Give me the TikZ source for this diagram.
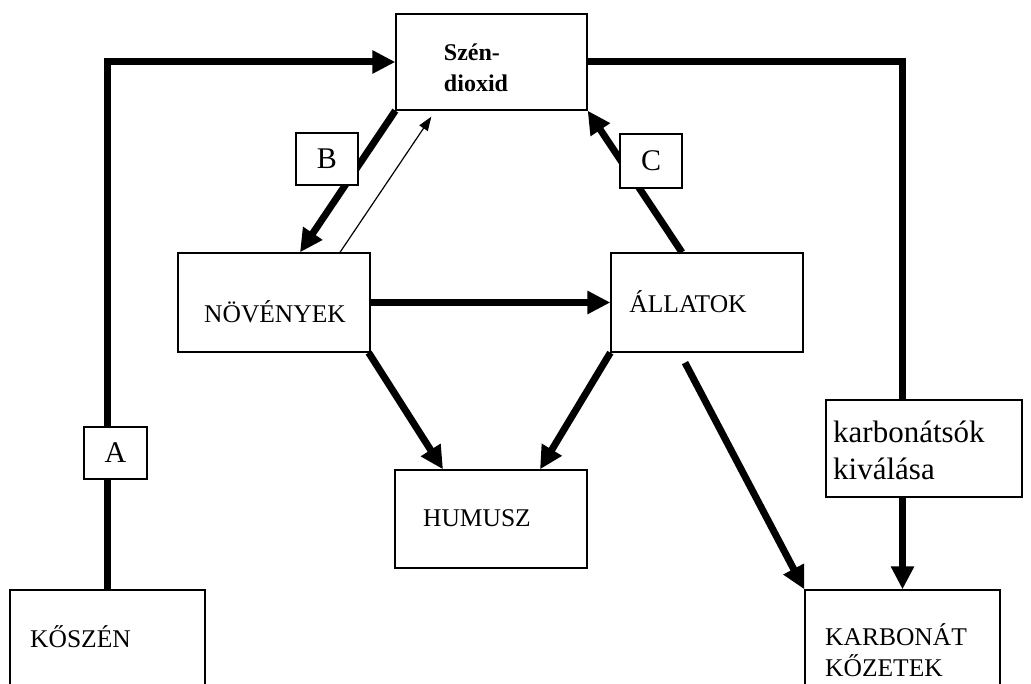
\documentclass[tikz,border=0pt]{standalone}
\usepackage{fontspec}
\setmainfont{Liberation Serif}
\usetikzlibrary{arrows.meta,calc}
\begin{document}
\begin{tikzpicture}[x=1pt,y=-1pt,
  box/.style={draw,line width=1.3pt,fill=white,inner sep=0pt,minimum width=#1},
  box/.default=192pt,
  arr/.style={line width=7pt,-{Triangle[length=23pt,width=22pt]}},
  thick line/.style={line width=7pt},
  thinarr/.style={line width=1.2pt,-{Triangle[length=14pt,width=10pt]}},
  lbl/.style={inner sep=0pt,font=\fontsize{25.5}{30}\selectfont},
  biglbl/.style={inner sep=0pt,align=left,font=\fontsize{31}{37}\selectfont},
  letter/.style={draw,line width=1.3pt,fill=white,inner sep=0pt,font=\fontsize{30}{32}\selectfont}]
\clip (0,0) rectangle (1031,684);
\fill[white] (0,0) rectangle (1031,684);
% main boxes
\node[box=191pt,minimum height=96pt] (co2) at (491.5,62) {};
\node[box,minimum height=99pt] (nov) at (274,302.5) {};
\node[box,minimum height=99pt] (all) at (707,302.5) {};
\node[box,minimum height=98pt] (hum) at (491,519) {};
\node[box=195pt,minimum height=110pt] (kosz) at (107.5,645) {};
\node[box=195pt,minimum height=110pt] (karb) at (902.5,645) {};
\node[box=196pt,minimum height=97pt] (kiv) at (924,448.5) {};
% texts
\node[inner sep=0pt,align=left,font=\bfseries\fontsize{24}{31}\selectfont] (t0) at (476,68) {Szén-\\dioxid};
\node[lbl] (t1) at (275,312) {NÖVÉNYEK};
\node[lbl] (t2) at (688,302) {ÁLLATOK};
\node[lbl] (t3) at (477,518) {HUMUSZ};
\node[lbl,anchor=west] (t4) at (30,637) {KŐSZÉN};
\node[lbl,anchor=north west,align=left,font=\fontsize{25.5}{31}\selectfont] (t5) at (825,623) {KARBONÁT\\KŐZETEK};
\node[biglbl,anchor=north west] (t6) at (833,421) {karbonátsók\\kiválása};
% connectors
\draw[arr] (kosz.north) |- (co2.west);
\draw[thick line] (co2.east) -| (kiv.north -| karb.north);
\draw[arr] (kiv.south -| karb.north) -- (karb.north);
\draw[arr] (co2.south west) -- ([xshift=26pt]nov.north);
\draw[thinarr] ([xshift=66pt]nov.north) -- ([xshift=36pt,yshift=-6pt]co2.south west);
\draw[arr] ([xshift=-25pt]all.north) -- (co2.south east);
\draw[arr] (nov.east) -- (all.west);
\draw[arr] ([xshift=-2pt]nov.south east) -- ([xshift=-48pt]hum.north);
\draw[arr] (all.south west) -- ([xshift=49pt]hum.north);
\draw[arr] ([xshift=-22pt,yshift=-10pt]all.south) -- (karb.north west);
% letter boxes
\node[letter,minimum width=63pt,minimum height=52pt] (A) at (115.5,453) {A};
\node[letter,minimum width=62pt,minimum height=52pt] (B) at (327,159) {B};
\node[letter,minimum width=62pt,minimum height=54pt] (C) at (651,161) {C};
\end{tikzpicture}
\end{document}
